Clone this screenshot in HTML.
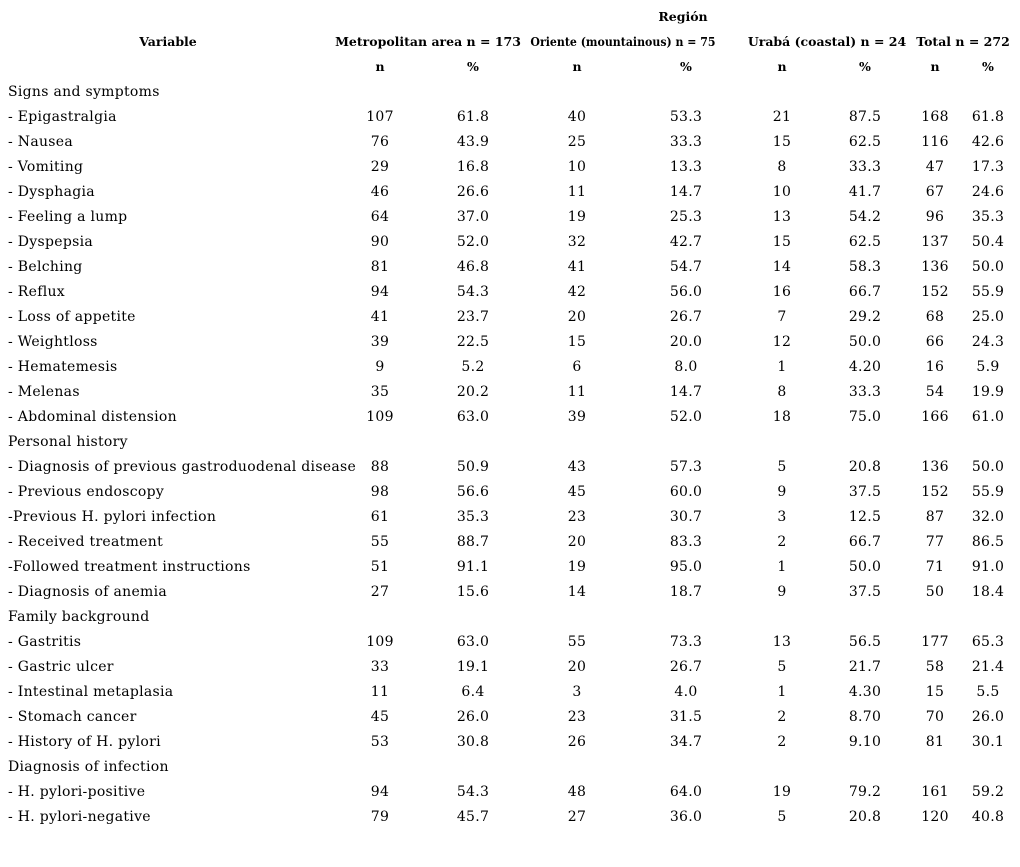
<!DOCTYPE html>
<html><head><meta charset="utf-8"><style>
body{margin:0;background:#fff;width:1020px;height:867px;position:relative;overflow:hidden;font-family:"DejaVu Serif",serif;color:#000}
.t{position:absolute;font-size:14px;letter-spacing:0.3px;line-height:16px;white-space:nowrap;transform:translateY(-50%)}
.c{transform:translate(-50%,-50%)}
.b{font-weight:bold;font-size:12.5px;letter-spacing:0}
</style></head><body>
<div id="r"></div>
<script>
const H=[[683,17,"Región"],[168,42,"Variable"],[428,42,"Metropolitan area n = 173"],[623,42,"Oriente (mountainous) n = 75",0.877],[827,42,"Urabá (coastal) n = 24"],[963,42,"Total n = 272"]];
const xs=[380,473,577,686,782,865,935,988];
["n","%","n","%","n","%","n","%"].forEach((s,i)=>H.push([xs[i],67,s]));
const rows=[
["Signs and symptoms"],
["- Epigastralgia","107","61.8","40","53.3","21","87.5","168","61.8"],
["- Nausea","76","43.9","25","33.3","15","62.5","116","42.6"],
["- Vomiting","29","16.8","10","13.3","8","33.3","47","17.3"],
["- Dysphagia","46","26.6","11","14.7","10","41.7","67","24.6"],
["- Feeling a lump","64","37.0","19","25.3","13","54.2","96","35.3"],
["- Dyspepsia","90","52.0","32","42.7","15","62.5","137","50.4"],
["- Belching","81","46.8","41","54.7","14","58.3","136","50.0"],
["- Reflux","94","54.3","42","56.0","16","66.7","152","55.9"],
["- Loss of appetite","41","23.7","20","26.7","7","29.2","68","25.0"],
["- Weightloss","39","22.5","15","20.0","12","50.0","66","24.3"],
["- Hematemesis","9","5.2","6","8.0","1","4.20","16","5.9"],
["- Melenas","35","20.2","11","14.7","8","33.3","54","19.9"],
["- Abdominal distension","109","63.0","39","52.0","18","75.0","166","61.0"],
["Personal history"],
["- Diagnosis of previous gastroduodenal disease","88","50.9","43","57.3","5","20.8","136","50.0"],
["- Previous endoscopy","98","56.6","45","60.0","9","37.5","152","55.9"],
["-Previous H. pylori infection","61","35.3","23","30.7","3","12.5","87","32.0"],
["- Received treatment","55","88.7","20","83.3","2","66.7","77","86.5"],
["-Followed treatment instructions","51","91.1","19","95.0","1","50.0","71","91.0"],
["- Diagnosis of anemia","27","15.6","14","18.7","9","37.5","50","18.4"],
["Family background"],
["- Gastritis","109","63.0","55","73.3","13","56.5","177","65.3"],
["- Gastric ulcer","33","19.1","20","26.7","5","21.7","58","21.4"],
["- Intestinal metaplasia","11","6.4","3","4.0","1","4.30","15","5.5"],
["- Stomach cancer","45","26.0","23","31.5","2","8.70","70","26.0"],
["- History of H. pylori","53","30.8","26","34.7","2","9.10","81","30.1"],
["Diagnosis of infection"],
["- H. pylori-positive","94","54.3","48","64.0","19","79.2","161","59.2"],
["- H. pylori-negative","79","45.7","27","36.0","5","20.8","120","40.8"]];
let h="";
H.forEach(([x,y,s,sc])=>h+=`<div class="t c b" style="left:${x}px;top:${y}px;${sc?`transform:translate(-50%,-50%) scaleX(${sc})`:''}">${s}</div>`);
rows.forEach((r,i)=>{const y=92+25*i;
h+=`<div class="t" style="left:8px;top:${y}px">${r[0]}</div>`;
for(let k=1;k<r.length;k++)h+=`<div class="t c" style="left:${xs[k-1]}px;top:${y}px">${r[k]}</div>`;});
document.getElementById("r").innerHTML=h;
</script>
</body></html>
